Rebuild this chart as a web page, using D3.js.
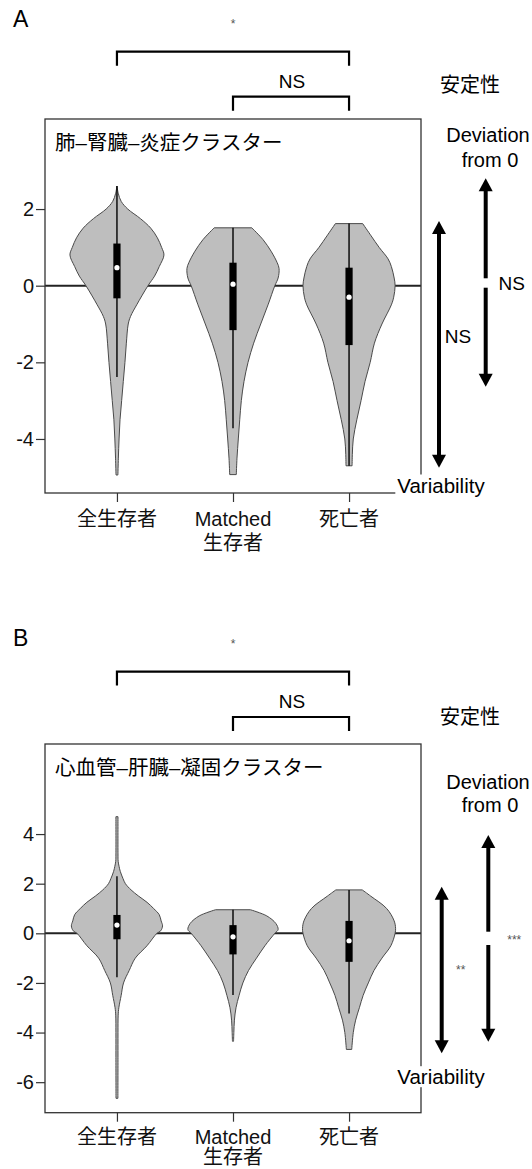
<!DOCTYPE html>
<html><head><meta charset="utf-8">
<script src="https://cdn.jsdelivr.net/npm/d3@7"></script>
<style>body{margin:0;background:#fff} svg{display:block}</style>
</head><body>
<script>
// ---------------- data ----------------
const categories = ["全生存者", "Matched 生存者", "死亡者"];
const categoryLines = [["全生存者"], ["Matched", "生存者"], ["死亡者"]];
const panelLetters = ["A", "B"];
const panelTitles = ["肺–腎臓–炎症クラスター", "心血管–肝臓–凝固クラスター"];

const ticksA = [-4, -2, 0, 2];
const ticksB = [-6, -4, -2, 0, 2, 4];
const domainA = [-5.41, 4.35];
const domainB = [-7.23, 7.63];

// violin profiles: [value, relative density]
const violinA1 = [[2.6,0],[2.4,0.03],[2.2,0.09],[2.0,0.23],[1.75,0.5],[1.5,0.72],[1.25,0.86],[1.0,0.95],[0.8,1.0],[0.5,0.9],[0.25,0.8],[0.0,0.66],[-0.5,0.42],[-0.8,0.29],[-1.0,0.24],[-1.5,0.2],[-2.0,0.17],[-2.5,0.135],[-3.0,0.1],[-3.5,0.065],[-4.0,0.045],[-4.5,0.03],[-4.94,0.02]];
const violinA2 = [[1.51,0.40],[1.2,0.64],[0.9,0.81],[0.6,0.94],[0.45,0.98],[0.2,0.96],[0.0,0.89],[-0.5,0.745],[-1.0,0.59],[-1.5,0.44],[-2.0,0.32],[-2.5,0.234],[-3.0,0.177],[-3.5,0.143],[-4.0,0.113],[-4.5,0.085],[-4.93,0.07]];
const violinA3 = [[1.62,0.29],[1.3,0.47],[1.0,0.64],[0.7,0.83],[0.5,0.9],[0.2,0.96],[0.0,0.98],[-0.3,0.95],[-0.5,0.9],[-1.0,0.7],[-1.5,0.54],[-2.0,0.45],[-2.5,0.34],[-3.0,0.255],[-3.5,0.165],[-4.0,0.09],[-4.4,0.07],[-4.7,0.065]];

const violinB1 = [[4.7,0.022],[3.2,0.022],[2.9,0.026],[2.7,0.045],[2.5,0.07],[2.2,0.13],[2.0,0.18],[1.75,0.3],[1.5,0.46],[1.25,0.64],[1.0,0.78],[0.75,0.9],[0.5,0.94],[0.3,0.97],[0.1,0.93],[0.0,0.85],[-0.5,0.64],[-1.0,0.39],[-1.5,0.26],[-2.0,0.14],[-2.5,0.09],[-3.0,0.04],[-3.3,0.026],[-4.0,0.022],[-5.0,0.022],[-6.65,0.02]];
const violinB2 = [[0.95,0.37],[0.7,0.72],[0.4,0.91],[0.15,0.96],[0.0,0.89],[-0.5,0.68],[-1.0,0.5],[-1.5,0.33],[-2.0,0.21],[-2.5,0.13],[-3.0,0.064],[-3.5,0.03],[-4.0,0.018],[-4.35,0.012]];
const violinB3 = [[1.75,0.28],[1.5,0.46],[1.0,0.8],[0.5,0.96],[0.2,0.99],[0.0,0.98],[-0.5,0.89],[-1.0,0.7],[-1.5,0.53],[-2.0,0.41],[-2.5,0.3],[-3.0,0.22],[-3.5,0.14],[-4.0,0.09],[-4.68,0.057]];

// box plot statistics per category
const q3A = [1.1, 0.6, 0.47];
const q1A = [-0.33, -1.16, -1.55];
const medianA = [0.47, 0.04, -0.3];
const whiskerHighA = [2.6, 1.51, 1.62];
const whiskerLowA = [-2.38, -3.72, -4.7];

const q3B = [0.74, 0.33, 0.5];
const q1B = [-0.24, -0.85, -1.15];
const medianB = [0.33, -0.14, -0.3];
const whiskerHighB = [2.3, 0.95, 1.75];
const whiskerLowB = [-1.77, -2.49, -3.23];

// significance labels: [all vs died, matched vs died], [variability, deviation]
const bracketLabelsA = ["*", "NS"];
const bracketLabelsB = ["*", "NS"];
const arrowLabelsA = ["NS", "NS"];
const arrowLabelsB = ["**", "***"];
const stabilityLabel = "安定性";
const deviationLabel = ["Deviation", "from 0"];
const variabilityLabel = "Variability";

// ---------------- drawing ----------------
const W = 532, H = 1169;
const FONT = "'Liberation Sans', Arial, 'Noto Sans CJK JP', sans-serif";
const svg = d3.select("body").append("svg").attr("width", W).attr("height", H)
  .style("font-family", FONT);

const x = d3.scalePoint().domain(categories).range([45, 421]).padding(0.62);
const w = d3.scaleLinear().domain([0, 1]).range([0, 47]);

const panels = [
  { letter: panelLetters[0], title: panelTitles[0], domain: domainA, ticks: ticksA,
    violins: [violinA1, violinA2, violinA3], q1: q1A, q3: q3A, med: medianA, lo: whiskerLowA, hi: whiskerHighA,
    brackets: bracketLabelsA, arrows: arrowLabelsA, top: 119, bottom: 493,
    L: { letter: -100, star: -94.7, big: -67.3, nsText: -38, nsBr: -22.3, stab: -34, dev1: 16, dev2: 41,
         varX: 439, varTop: 102, varBot: 348.7, varLab: 217.7,
         devX: 485.7, devTop: 59.3, devMid1: 159.3, devMid2: 168.7, devBot: 267.7, devLab: 164, varText: 366,
         lab1: 26, lab2: 50, sigSmall: false } },
  { letter: panelLetters[1], title: panelTitles[1], domain: domainB, ticks: ticksB,
    violins: [violinB1, violinB2, violinB3], q1: q1B, q3: q3B, med: medianB, lo: whiskerLowB, hi: whiskerHighB,
    brackets: bracketLabelsB, arrows: arrowLabelsB, top: 744, bottom: 1112.7,
    L: { letter: -106.5, star: -100, big: -72.4, nsText: -42.7, nsBr: -27, stab: -27.3, dev1: 37.7, dev2: 61,
         varX: 441.7, varTop: 142.7, varBot: 309.3, varLab: 226,
         devX: 488.3, devTop: 91, devMid1: 187.7, devMid2: 201, devBot: 297.7, devLab: 196, varText: 332.7,
         lab1: 24, lab2: 44, sigSmall: true } }
];

function arrowHead(g, ax, yTip, dir) {
  const h = 13, hw = 7;
  g.append("path")
    .attr("d", `M${ax},${yTip} L${ax - hw},${yTip - dir * h} L${ax + hw},${yTip - dir * h} Z`)
    .attr("fill", "#000");
}
function shaft(g, ax, y1, y2) {
  g.append("line").attr("x1", ax).attr("x2", ax).attr("y1", y1).attr("y2", y2)
    .attr("stroke", "#000").attr("stroke-width", 4);
}

panels.forEach(p => {
  const g = svg.append("g");
  const y = d3.scaleLinear().domain(p.domain).range([p.bottom, p.top]);
  const T = p.top, L = p.L;
  const x0 = x.range()[0], x1 = x.range()[1];

  // panel letter
  g.append("text").attr("x", 13).attr("y", T + L.letter).attr("dominant-baseline", "central")
    .attr("font-size", 23).text(p.letter);

  // brackets
  const cx0 = x(categories[0]), cx1 = x(categories[1]), cx2 = x(categories[2]);
  const br = (xa, xb, yy) => g.append("path")
    .attr("d", `M${xa},${yy + 14} V${yy} H${xb} V${yy + 14}`)
    .attr("fill", "none").attr("stroke", "#000").attr("stroke-width", 2.2);
  br(cx0, cx2, T + L.big);
  br(cx1, cx2, T + L.nsBr);
  g.append("text").attr("x", (cx0 + cx2) / 2).attr("y", T + L.star).attr("text-anchor", "middle")
    .attr("dominant-baseline", "central").attr("font-size", 12).attr("fill", "#555").text(p.brackets[0]);
  g.append("text").attr("x", (cx1 + cx2) / 2 + 1).attr("y", T + L.nsText).attr("text-anchor", "middle")
    .attr("dominant-baseline", "central").attr("font-size", 19).text(p.brackets[1]);

  // stability label
  g.append("text").attr("x", 470).attr("y", T + L.stab).attr("text-anchor", "middle")
    .attr("dominant-baseline", "central").attr("font-size", 20).text(stabilityLabel);

  // zero line
  g.append("line").attr("x1", x0).attr("x2", x1).attr("y1", y(0)).attr("y2", y(0))
    .attr("stroke", "#222").attr("stroke-width", 2);

  // violins
  p.violins.forEach((v, i) => {
    const cx = x(categories[i]);
    const area = d3.area().curve(d3.curveCatmullRom.alpha(0.5))
      .y(d => y(d[0])).x0(d => cx - w(d[1])).x1(d => cx + w(d[1]));
    g.append("path").attr("d", area(v)).attr("fill", "#bebebe").attr("stroke", "#4a4a4a").attr("stroke-width", 1);
    // whisker
    g.append("line").attr("x1", cx).attr("x2", cx).attr("y1", y(p.hi[i])).attr("y2", y(p.lo[i]))
      .attr("stroke", "#000").attr("stroke-width", 1.4);
    // box
    g.append("rect").attr("x", cx - 3.6).attr("width", 7.2)
      .attr("y", y(p.q3[i])).attr("height", y(p.q1[i]) - y(p.q3[i])).attr("fill", "#000");
    g.append("circle").attr("cx", cx).attr("cy", y(p.med[i])).attr("r", 2.6).attr("fill", "#fff");
  });

  // frame
  g.append("rect").attr("x", x0).attr("y", T).attr("width", x1 - x0).attr("height", p.bottom - T)
    .attr("fill", "none").attr("stroke", "#333").attr("stroke-width", 1.3);

  // title
  g.append("text").attr("x", 55).attr("y", T + 23).attr("dominant-baseline", "central")
    .attr("font-size", 20.5).text(p.title);

  // y axis
  const ya = g.append("g").attr("transform", `translate(${x0},0)`)
    .call(d3.axisLeft(y).tickValues(p.ticks).tickSize(9).tickPadding(2).tickFormat(d => String(d)));
  ya.select(".domain").remove();
  ya.selectAll("line").attr("stroke", "#333").attr("stroke-width", 1.2);
  ya.selectAll("text").attr("font-size", 20).attr("font-family", FONT).attr("fill", "#111");

  // x axis
  const xa = g.append("g").attr("transform", `translate(0,${p.bottom})`)
    .call(d3.axisBottom(x).tickSize(9).tickFormat(""));
  xa.select(".domain").remove();
  xa.selectAll("line").attr("stroke", "#333").attr("stroke-width", 1.2);
  categories.forEach((c, i) => {
    categoryLines[i].forEach((line, j) => {
      g.append("text").attr("x", x(c)).attr("y", p.bottom + (j === 0 ? L.lab1 : L.lab2)).attr("text-anchor", "middle")
        .attr("dominant-baseline", "central").attr("font-size", 20).attr("fill", "#111").text(line);
    });
  });

  // deviation label
  g.append("text").attr("x", 488).attr("y", T + L.dev1).attr("text-anchor", "middle")
    .attr("dominant-baseline", "central").attr("font-size", 20).text(deviationLabel[0]);
  g.append("text").attr("x", 490).attr("y", T + L.dev2).attr("text-anchor", "middle")
    .attr("dominant-baseline", "central").attr("font-size", 20).text(deviationLabel[1]);

  // variability arrow
  arrowHead(g, L.varX, T + L.varTop, -1);
  arrowHead(g, L.varX, T + L.varBot, 1);
  shaft(g, L.varX, T + L.varTop + 10, T + L.varBot - 10);
  const sigSize = L.sigSmall ? 12 : 19, sigCol = L.sigSmall ? "#555" : "#000";
  g.append("text").attr("x", L.varX + 19).attr("y", T + L.varLab).attr("text-anchor", "middle")
    .attr("dominant-baseline", "central").attr("font-size", sigSize).attr("fill", sigCol).text(p.arrows[0]);

  // deviation arrow (split)
  arrowHead(g, L.devX, T + L.devTop, -1);
  shaft(g, L.devX, T + L.devTop + 10, T + L.devMid1);
  shaft(g, L.devX, T + L.devMid2, T + L.devBot - 10);
  arrowHead(g, L.devX, T + L.devBot, 1);
  g.append("text").attr("x", L.devX + 26).attr("y", T + L.devLab).attr("text-anchor", "middle")
    .attr("dominant-baseline", "central").attr("font-size", sigSize).attr("fill", sigCol).text(p.arrows[1]);

  // variability label with white backing
  const vt = g.append("text").attr("x", 441).attr("y", T + L.varText).attr("text-anchor", "middle")
    .attr("dominant-baseline", "central").attr("font-size", 20.5).text(variabilityLabel);
  const bb = vt.node().getBBox();
  g.insert("rect", () => vt.node()).attr("x", bb.x - 2).attr("y", bb.y + 1).attr("width", bb.width + 4)
    .attr("height", bb.height - 2).attr("fill", "#fff");
});
</script>
</body></html>
